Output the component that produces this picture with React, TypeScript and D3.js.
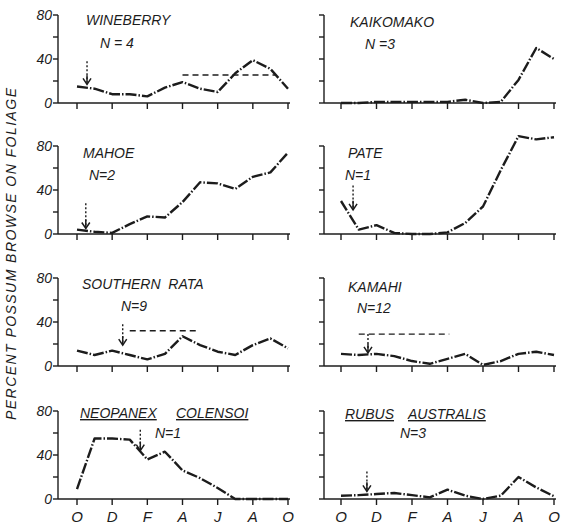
import React from "react";
import * as d3 from "d3";

// monthly points, October to October
const months = ["O", "N", "D", "J", "F", "M", "A", "M", "J", "J", "A", "S", "O"];
const tickLabels = ["O", "D", "F", "A", "J", "A", "O"];
const yTicks = [0, 20, 40, 60, 80];
const yLabels = [0, 40, 80];

const wineberry = [15, 13, 8, 8, 6, 14, 19, 13, 10, 27, 39, 31, 13];
const kaikomako = [0, 0, 1, 1, 1, 1, 1, 3, 0, 1, 21, 50, 40];
const mahoe = [4, 2, 1, 9, 16, 15, 29, 47, 46, 41, 52, 56, 74];
const pate = [30, 4, 8, 1, 0, 0, 1.5, 10, 25, 58, 89, 86, 88];
const southernRata = [14, 10, 14, 10, 6, 11, 27, 19, 13, 10, 19, 25, 16];
const kamahi = [11, 10, 11, 9, 4.5, 2, 6.5, 11, 1, 4.5, 11, 13, 10];
const neopanex = [9, 55, 55, 54, 36, 43, 26, 19, 10, 0, 0, 0, 0];
const rubus = [3, 3.5, 4.5, 5.5, 3.5, 1.5, 8.5, 3, 0, 3, 20, 10.5, 2.5];

// arrows: month position, top value, bottom value
const arrows = [
  [0.57, 38, 17],
  [0, 0, 0],
  [0.5, 28, 5],
  [0.68, 44, 22],
  [2.6, 38, 19],
  [1.52, 29, 12],
  [3.6, 63, 44],
  [1.46, 25, 7],
];
// dashed lines: from month, to month, value (null = none)
const dashes: (number[] | null)[] = [
  [6.0, 11.3, 25.5],
  null,
  null,
  null,
  [3.0, 6.9, 32],
  [1.0, 6.1, 29],
  null,
  null,
];

const series = [wineberry, kaikomako, mahoe, pate, southernRata, kamahi, neopanex, rubus];
const titles = ["WINEBERRY", "KAIKOMAKO", "MAHOE", "PATE", "SOUTHERN  RATA", "KAMAHI", "", ""];
const nLabels = ["N = 4", "N =3", "N=2", "N=1", "N=9", "N=12", "N=1", "N=3"];

const axisX = [58, 324];
const dataX = [[77, 288], [341, 554]];
const rowTop = [15, 146, 278, 411];
const rowH = 88;

// label positions (px) relative to axis origin
const titlePos = [
  [86, 25], [350, 27], [83, 158], [348, 158], [82, 289], [348, 292], [80, 418], [345, 419],
];
const nPos = [
  [100, 48], [365, 49], [89, 180], [345, 180], [121, 311], [357, 313], [155, 438], [400, 438],
];

const ink = "#1c1c1c";
const font = "'Liberation Sans', Arial, sans-serif";

function Arrow({ x, y1, y2 }: { x: number; y1: number; y2: number }) {
  return (
    <g stroke={ink} fill="none">
      <line x1={x} x2={x} y1={y1} y2={y2 - 2} strokeWidth={1.4} strokeDasharray="2 2" />
      <line x1={x} x2={x} y1={y2 - 9} y2={y2} strokeWidth={1.5} />
      <polyline points={`${x - 4},${y2 - 6} ${x},${y2} ${x + 4},${y2 - 6}`} strokeWidth={1.5} />
    </g>
  );
}

function Panel({ i }: { i: number }) {
  const col = i % 2;
  const row = Math.floor(i / 2);
  const ax = axisX[col];
  const x = d3.scaleLinear().domain([0, 12]).range(dataX[col]);
  const y = d3.scaleLinear().domain([0, 80]).range([rowTop[row] + rowH, rowTop[row]]);
  const line = d3
    .line<number>()
    .x((_, j) => x(j))
    .y((d) => y(d));
  const arrow = arrows[i];
  const dash = dashes[i];
  const y0 = y(0);
  return (
    <g>
      {/* axes */}
      <g stroke={ink} strokeWidth={1.4}>
        <line x1={ax} x2={ax} y1={y(80)} y2={y0} />
        <line x1={ax} x2={dataX[col][1] + 2} y1={y0} y2={y0} />
        {yTicks.map((t) => (
          <line key={t} x1={ax - 5} x2={ax} y1={y(t)} y2={y(t)} />
        ))}
        {d3.range(0, 13, 2).map((m) => (
          <line key={m} x1={x(m)} x2={x(m)} y1={y0} y2={y0 + 6} />
        ))}
      </g>
      {col === 0 &&
        yLabels.map((t) => (
          <text
            key={t}
            x={ax - 6}
            y={y(t) + 5}
            textAnchor="end"
            fontSize={14}
            fontStyle="italic"
            fill={ink}
            fontFamily={font}
          >
            {t}
          </text>
        ))}
      {row === 3 &&
        tickLabels.map((t, j) => (
          <text
            key={j}
            x={x(j * 2)}
            y={522}
            textAnchor="middle"
            fontSize={15}
            fontStyle="italic"
            fill={ink}
            fontFamily={font}
          >
            {t}
          </text>
        ))}
      {/* data */}
      <path
        d={line(series[i]) || ""}
        fill="none"
        stroke={ink}
        strokeWidth={2.4}
        strokeDasharray="11 2 1.5 2"
        strokeLinejoin="round"
      />
      {dash && (
        <line
          x1={x(dash[0])}
          x2={x(dash[1])}
          y1={y(dash[2])}
          y2={y(dash[2])}
          stroke={ink}
          strokeWidth={1.4}
          strokeDasharray="6 4"
        />
      )}
      {arrow[1] > 0 && <Arrow x={x(arrow[0])} y1={y(arrow[1])} y2={y(arrow[2])} />}
      {/* labels */}
      <g fontFamily={font} fontStyle="italic" fontSize={14} fill={ink}>
        {titles[i] && (
          <text x={titlePos[i][0]} y={titlePos[i][1]} style={{ whiteSpace: "pre" }}>
            {titles[i]}
          </text>
        )}
        {i === 6 && (
          <>
            <text x={titlePos[i][0]} y={titlePos[i][1]} textDecoration="underline">NEOPANEX</text>
            <text x={titlePos[i][0] + 96} y={titlePos[i][1]} textDecoration="underline">COLENSOI</text>
          </>
        )}
        {i === 7 && (
          <>
            <text x={titlePos[i][0]} y={titlePos[i][1]} textDecoration="underline">RUBUS</text>
            <text x={titlePos[i][0] + 63} y={titlePos[i][1]} textDecoration="underline">AUSTRALIS</text>
          </>
        )}
        <text x={nPos[i][0]} y={nPos[i][1]}>{nLabels[i]}</text>
      </g>
    </g>
  );
}

export default function App() {
  return (
    <svg
      width={566}
      height={526}
      style={{ position: "absolute", left: 0, top: 0, background: "#fff" }}
    >
      <text
        transform="translate(16,254) rotate(-90)"
        textAnchor="middle"
        fontFamily={font}
        fontStyle="italic"
        fontSize={14}
        fill={ink}
        textLength={332}
        lengthAdjust="spacing"
      >
        PERCENT POSSUM BROWSE ON FOLIAGE
      </text>
      {series.map((_, i) => (
        <Panel key={i} i={i} />
      ))}
    </svg>
  );
}
